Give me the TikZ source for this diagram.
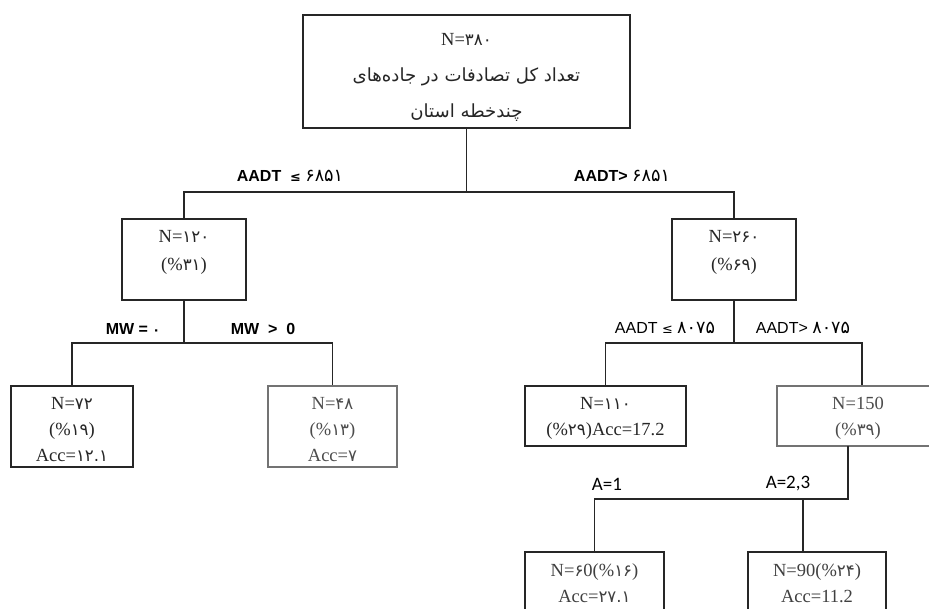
\documentclass[tikz,border=0pt]{standalone}
\usepackage{fontspec}
\setmainfont{Liberation Serif}
\newfontfamily\labfont{Liberation Sans}
\newfontfamily\calfont{Carlito}
\newfontfamily\fad[Scale=0.8]{DejaVu Sans}
\newfontfamily\fatext[Script=Arabic,Scale=0.85]{DejaVu Sans}
\TeXXeTstate=1
\newcommand\fd[1]{{\fad\fontsize{20.8}{20}\selectfont #1}}
\newcommand\fdl[1]{{\fad\mdseries\fontsize{22}{20}\selectfont #1}}
\begin{document}
\begin{tikzpicture}[x=1pt,y=-1pt,
  box/.style={draw=black!85,line width=1.4pt,inner sep=0pt},
  graybox/.style={draw=black!55,line width=1.4pt,inner sep=0pt},
  conn/.style={draw=black!85,line width=1.1pt},
  txt/.style={align=center,inner sep=0pt,text=black!85,font=\fontsize{18.5}{26}\selectfont},
  cond/.style={inner sep=0pt,font=\labfont\bfseries\fontsize{16}{18}\selectfont},
  condb/.style={inner sep=0pt,font=\labfont\fontsize{16}{18}\selectfont},
  condc/.style={inner sep=0pt,font=\calfont\fontsize{19}{22}\selectfont}]
\useasboundingbox (0,0) rectangle (929,608);
\clip (0,0) rectangle (929,608);
\fill[white] (0,0) rectangle (929,608);

% boxes
\node[box,minimum width=327pt,minimum height=113pt] (root) at (466.5,71.5) {};
\node[box,minimum width=124pt,minimum height=81pt] (l1) at (184,259.5) {};
\node[box,minimum width=124pt,minimum height=81pt] (r1) at (734,259.5) {};
\node[box,minimum width=122pt,minimum height=81pt] (ll) at (72,426.5) {};
\node[graybox,minimum width=129pt,minimum height=81pt] (lr) at (332.5,426.5) {};
\node[box,minimum width=161pt,minimum height=60pt] (rl) at (605.5,416) {};
\node[graybox,minimum width=170pt,minimum height=60pt] (rr) at (862,416) {};
\node[box,minimum width=139pt,minimum height=80pt] (bl) at (594.5,592) {};
\node[box,minimum width=138pt,minimum height=80pt] (br) at (817,592) {};

% texts
\node[txt,font=\fontsize{18.5}{36}\selectfont] (roott) at (466.5,77) {N=\fd{۳۸۰}\\
  {\fatext\fontsize{21.3}{36}\selectfont\beginR تعداد کل تصادفات در جاده‌های\endR}\\
  {\fatext\fontsize{21.3}{36}\selectfont\beginR چندخطه استان\endR}};
\node[txt,font=\fontsize{18.5}{28}\selectfont] (l1t) at (184,252) {N=\fd{۱۲۰}\\(\%\fd{۳۱})};
\node[txt,font=\fontsize{18.5}{28}\selectfont] (r1t) at (734,252) {N=\fd{۲۶۰}\\(\%\fd{۶۹})};
\node[txt] (llt) at (72,430) {N=\fd{۷۲}\\(\%\fd{۱۹})\\Acc=\fd{۱۲.۱}};
\node[txt,text=black!70] (lrt) at (332.5,430) {N=\fd{۴۸}\\(\%\fd{۱۳})\\Acc=\fd{۷}};
\node[txt] (rlt) at (605.5,418) {N=\fd{۱۱۰}\\(\%\fd{۲۹})Acc=17.2};
\node[txt,text=black!70] (rrt) at (858,418) {N=150\\(\%\fd{۳۹})};
\node[txt,text=black!75] (blt) at (594.5,583.5) {N=\fd{۶}0(\%\fd{۱۶})\\Acc=\fd{۲۷.۱}};
\node[txt,text=black!75] (brt) at (817,583.5) {N=90(\%\fd{۲۴})\\Acc=11.2};

% connectors
\coordinate (j0) at (466.5,192);
\draw[conn] (root.south) -- (j0);
\draw[conn] (l1.north) |- (j0) -| (r1.north);
\coordinate (j1) at (184,343);
\draw[conn] (l1.south) -- (j1);
\draw[conn] (ll.north) |- (j1) -| (lr.north);
\coordinate (j2) at (734,343);
\draw[conn] (r1.south) -- (j2);
\draw[conn] (rl.north) |- (j2) -| (rr.north);
\coordinate (rrs) at (848,446);
\coordinate (j3) at (848,499);
\coordinate (j3b) at (803,499);
\draw[conn] (rrs) -- (j3) -| (bl.north);
\draw[conn] (j3b) -- (j3b |- br.north);

% conditions
\node[cond] (c1) at (290,176) {AADT \ {\fad ≤} \fdl{۶۸۵۱}};
\node[cond] (c2) at (622,176) {AADT> \fdl{۶۸۵۱}};
\node[cond] (c3) at (133,329) {MW = {\fad ۰}};
\node[cond] (c4) at (263,329) {MW \ > \ 0};
\node[condb] (c5) at (665,328) {AADT {\fad ≤} \fdl{۸۰۷۵}};
\node[condb] (c6) at (803,328) {AADT> \fdl{۸۰۷۵}};
\node[condc] (c7) at (607,484) {A=1};
\node[condc] (c8) at (788,484) {A=2,3};
\end{tikzpicture}
\end{document}
